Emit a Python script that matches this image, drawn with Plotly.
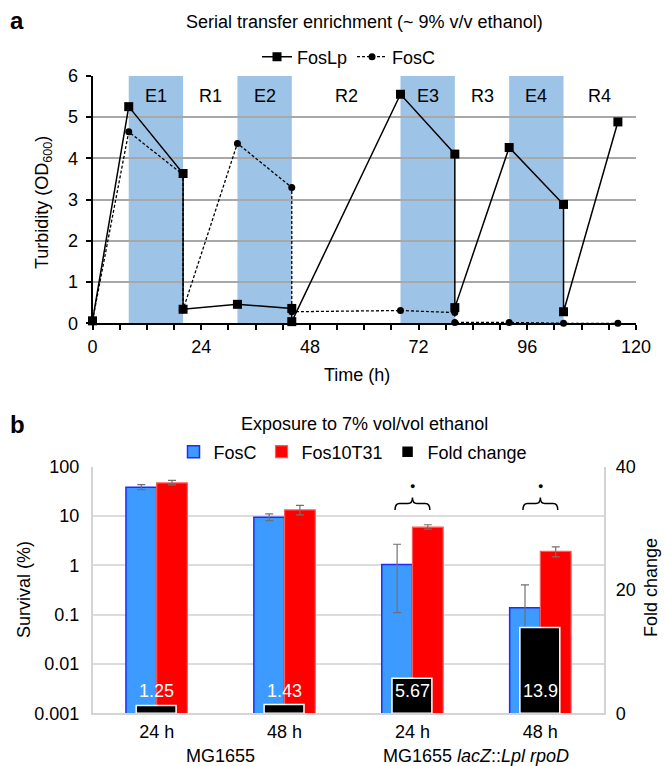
import plotly.graph_objects as go

# ---------------- Panel a data ----------------
time_foslp = [0, 8, 20, 20, 32, 44, 44, 68, 80, 80, 92, 104, 104, 116]
od_foslp = [0.06, 5.25, 3.63, 0.34, 0.46, 0.36, 0.04, 5.55, 4.10, 0.38, 4.26, 2.88, 0.28, 4.88]
time_fosc = [0, 8, 20, 20, 32, 44, 44, 68, 80, 80, 92, 104, 116]
od_fosc = [0.06, 4.64, 3.60, 0.33, 4.36, 3.29, 0.28, 0.31, 0.26, 0.02, 0.02, 0.0, 0.0]
phase_labels = ["E1", "R1", "E2", "R2", "E3", "R3", "E4", "R4"]
phase_start = [8, 20, 32, 44, 68, 80, 92, 104]
phase_end = [20, 32, 44, 68, 80, 92, 104, 120]
x_ticks_a = [0, 24, 48, 72, 96, 120]

# ---------------- Panel b data ----------------
time_labels = ["24 h", "48 h", "24 h", "48 h"]
strain_labels = ["MG1655", "MG1655 <i>lacZ</i>::<i>Lpl rpoD</i>"]
fosc_surv = [37.8, 9.4, 1.04, 0.138]
fosc_err_plus = [5.1, 1.6, 1.62, 0.26]
fosc_err_minus = [3.9, 1.4, 0.93, 0.12]
fos10_surv = [46.4, 13.2, 5.9, 1.9]
fos10_err_plus = [6.1, 3.1, 0.7, 0.45]
fos10_err_minus = [3.8, 2.7, 0.5, 0.42]
fold_change = [1.25, 1.43, 5.67, 13.9]
fold_labels = ["1.25", "1.43", "5.67", "13.9"]
significant = [False, False, True, True]
surv_ticks = [0.001, 0.01, 0.1, 1, 10, 100]
surv_ticktext = ["0.001", "0.01", "0.1", "1", "10", "100"]

W, H = 664, 766
FONT = "Liberation Sans, Arial, sans-serif"


def px(p):
    return p / W


def py(p):
    return 1 - p / H


cat_x = list(range(len(time_labels)))

fig = go.Figure()

# Panel a traces
fig.add_trace(go.Scatter(
    x=time_foslp, y=od_foslp, name="FosLp", mode="lines+markers",
    line=dict(color="black", width=1.5),
    marker=dict(symbol="square", size=9, color="black"),
    cliponaxis=False, xaxis="x", yaxis="y", legend="legend"))
fig.add_trace(go.Scatter(
    x=time_fosc, y=od_fosc, name="FosC", mode="lines+markers",
    line=dict(color="black", width=1.3, dash="3px,2px"),
    marker=dict(symbol="circle", size=7, color="black"),
    cliponaxis=False, xaxis="x", yaxis="y", legend="legend"))

# Panel b traces
fig.add_trace(go.Bar(
    x=cat_x, y=fosc_surv, name="FosC", xaxis="x2", yaxis="y2",
    width=0.24, offset=-0.24,
    marker=dict(color="#3d9bff", line=dict(color="#1f2cff", width=1.5)),
    error_y=dict(type="data", symmetric=False, array=fosc_err_plus,
                 arrayminus=fosc_err_minus, color="#707070", thickness=1.2, width=4),
    legend="legend2"))
fig.add_trace(go.Bar(
    x=cat_x, y=fos10_surv, name="Fos10T31", xaxis="x2", yaxis="y2",
    width=0.24, offset=0.0,
    marker=dict(color="#ff0000", line=dict(color="#ff5a5a", width=1.2)),
    error_y=dict(type="data", symmetric=False, array=fos10_err_plus,
                 arrayminus=fos10_err_minus, color="#707070", thickness=1.2, width=4),
    legend="legend2"))
fig.add_trace(go.Bar(
    x=cat_x, y=fold_change, name="Fold change", xaxis="x2", yaxis="y3",
    width=0.312, offset=-0.16,
    marker=dict(color="black", line=dict(color="white", width=1.5)),
    legend="legend2"))

shapes = []
annotations = []


def ann(**kw):
    kw.setdefault("showarrow", False)
    kw.setdefault("xanchor", "center")
    kw.setdefault("yanchor", "middle")
    annotations.append(kw)


# phase bands
for lab, s, e in zip(phase_labels, phase_start, phase_end):
    if lab.startswith("E"):
        shapes.append(dict(type="rect", xref="x", yref="y", x0=s, x1=e, y0=0, y1=6,
                           fillcolor="#9dc3e6", line=dict(width=0), layer="below"))
    ann(x=(s + e) / 2, y=5.5, xref="x", yref="y", text=lab, font=dict(size=18, color="black"))

# fold-change labels
for i, t in enumerate(fold_labels):
    ann(x=cat_x[i], y=3.6, xref="x2", yref="y3", text=t, font=dict(size=18, color="white"))

# significance braces
yb, ym, yt = py(510), py(503.5), py(497.5)
for i, sig in enumerate(significant):
    if not sig:
        continue
    xc = cat_x[i]
    hw = 0.136
    q = 0.035
    path = (f"M {xc-hw},{yb} Q {xc-hw},{ym} {xc-hw+q},{ym} "
            f"L {xc-q},{ym} Q {xc},{ym} {xc},{yt} "
            f"Q {xc},{ym} {xc+q},{ym} L {xc+hw-q},{ym} Q {xc+hw},{ym} {xc+hw},{yb}")
    shapes.append(dict(type="path", xref="x2", yref="paper", path=path,
                       line=dict(color="black", width=1.5)))
    ann(x=xc, y=py(486), xref="x2", yref="paper", text="●", font=dict(size=9, color="black"))

# strain group labels
ann(x=0.5, y=py(756), xref="x2", yref="paper", text=strain_labels[0], font=dict(size=18))
ann(x=2.5, y=py(756), xref="x2", yref="paper", text=strain_labels[1], font=dict(size=18))

# titles / panel letters / axis titles
ann(x=px(365), y=py(22), xref="paper", yref="paper",
    text="Serial transfer enrichment (~ 9% v/v ethanol)", font=dict(size=18))
ann(x=px(364), y=py(424), xref="paper", yref="paper",
    text="Exposure to 7% vol/vol ethanol", font=dict(size=18))
ann(x=px(17), y=py(20), xref="paper", yref="paper", text="<b>a</b>", font=dict(size=24))
ann(x=px(17), y=py(424), xref="paper", yref="paper", text="<b>b</b>", font=dict(size=24))
ann(x=px(44), y=py(203), xref="paper", yref="paper", text="Turbidity (OD<sub>600</sub>)",
    textangle=-90, font=dict(size=18))
ann(x=px(357), y=py(375), xref="paper", yref="paper", text="Time (h)", font=dict(size=18))
ann(x=px(24), y=py(590), xref="paper", yref="paper", text="Survival (%)",
    textangle=-90, font=dict(size=18))
ann(x=px(651), y=py(588), xref="paper", yref="paper", text="Fold change",
    textangle=-90, font=dict(size=18))

fig.update_layout(
    template="none",
    width=W, height=H,
    margin=dict(l=0, r=0, t=0, b=0, pad=0, autoexpand=False),
    paper_bgcolor="white", plot_bgcolor="white",
    font=dict(family=FONT, size=18, color="black"),
    barmode="overlay",
    hovermode=False,
    xaxis=dict(domain=[px(92.5), px(636)], range=[0, 120], tickvals=x_ticks_a,
               ticks="outside", ticklen=5, tickwidth=1.5, tickcolor="black",
               minor=dict(dtick=6, ticks="outside", ticklen=5, tickwidth=1.5, tickcolor="black"),
               showline=True, linecolor="black", linewidth=2, showgrid=False, zeroline=False,
               tickfont=dict(size=18), anchor="y", ticklabelstandoff=1, automargin=False),
    yaxis=dict(domain=[py(323.3), py(75.7)], range=[0, 6], dtick=1,
               ticks="outside", ticklen=5, tickwidth=1.5, tickcolor="black",
               showline=True, linecolor="black", linewidth=2,
               showgrid=True, gridcolor="#a8a8a8", gridwidth=1.5, zeroline=False,
               tickfont=dict(size=18), anchor="x", ticklabelstandoff=4, automargin=False),
    xaxis2=dict(domain=[px(92.7), px(604.3)], range=[-0.5, 3.5], tickvals=cat_x,
                ticktext=time_labels, ticks="", showline=True, linecolor="#d4d4d4",
                linewidth=1.5, showgrid=False, zeroline=False, anchor="y2",
                tickfont=dict(size=18), ticklabelstandoff=1, automargin=False),
    yaxis2=dict(domain=[py(713.3), py(466.5)], type="log", range=[-3, 2],
                tickvals=surv_ticks, ticktext=surv_ticktext, ticks="",
                showline=True, linecolor="#d4d4d4", linewidth=1.5,
                showgrid=True, gridcolor="#dcdcdc", gridwidth=1.5, zeroline=False,
                anchor="x2", tickfont=dict(size=18), ticklabelstandoff=8, automargin=False),
    yaxis3=dict(overlaying="y2", side="right", range=[0, 40], tickvals=[0, 20, 40],
                ticks="", showline=True, linecolor="#d4d4d4", linewidth=1.5,
                showgrid=False, zeroline=False, anchor="x2",
                tickfont=dict(size=18), ticklabelstandoff=6, automargin=False),
    legend=dict(orientation="h", x=px(349), y=py(57), xanchor="center", yanchor="middle",
                font=dict(size=18), bgcolor="rgba(0,0,0,0)"),
    legend2=dict(orientation="h", x=px(353), y=py(452), xanchor="center", yanchor="middle",
                 font=dict(size=18), bgcolor="rgba(0,0,0,0)"),
    shapes=shapes,
    annotations=annotations,
)

fig.write_html("out.html", config={"displayModeBar": False},
               post_script="document.body.style.margin='0px';")
